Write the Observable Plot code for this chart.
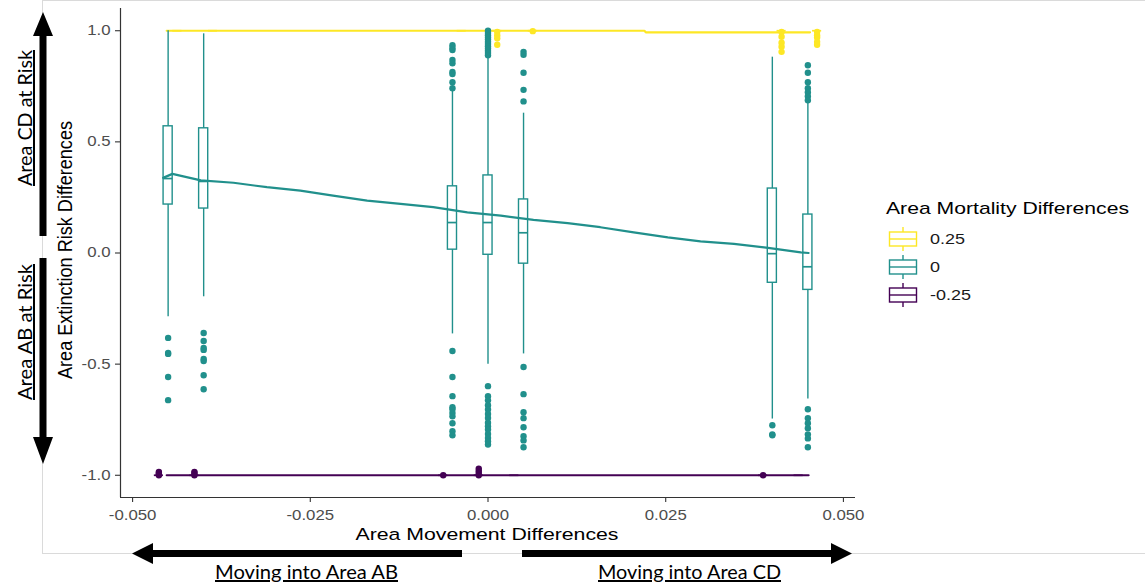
<!DOCTYPE html>
<html><head><meta charset="utf-8">
<script src="https://cdn.jsdelivr.net/npm/d3@7"></script>
<script src="https://cdn.jsdelivr.net/npm/@observablehq/plot@0.6"></script>
<style>
html,body{margin:0;padding:0;background:#fff;}
#wrap{position:relative;width:1145px;height:585px;overflow:hidden;}
#chart{position:absolute;left:0;top:0;width:1145px;height:585px;}
#anno{position:absolute;left:0;top:0;pointer-events:none;}
</style></head><body>
<div id="wrap"><div id="chart"></div><svg id="anno" width="1145" height="585"></svg></div>
<script>
// ---------------- data ----------------
const movement = [-0.045, -0.04, -0.005, 0, 0.005, 0.04, 0.045];
const mortalityLevels = ["0.25", "0", "-0.25"];
const mortalityColors = ["#FDE725", "#21908C", "#440154"];
const xTicks = [-0.05, -0.025, 0, 0.025, 0.05];
const yTicks = [-1, -0.5, 0, 0.5, 1];

// mortality 0 (teal) box statistics
const midQ1     = [0.218, 0.200, 0.015, -0.008, -0.048, -0.134, -0.166];
const midMedian = [0.335, 0.322, 0.137, 0.137, 0.091, -0.003, -0.062];
const midQ3     = [0.570, 0.561, 0.300, 0.349, 0.241, 0.290, 0.173];
const midLower  = [-0.287, -0.197, -0.364, -0.500, -0.454, -0.747, -0.657];
const midUpper  = [1.000, 0.986, 0.732, 0.881, 0.629, 0.881, 0.673];
const midOutliers = [
  [-0.382, -0.45, -0.454, -0.558, -0.662],
  [-0.36, -0.396, -0.427, -0.436, -0.477, -0.486, -0.55, -0.613],
  [0.935, 0.922, 0.913, 0.868, 0.854, 0.814, 0.805, 0.768, 0.741, -0.441, -0.558, -0.644, -0.694, -0.703, -0.72, -0.735, -0.766, -0.802, -0.82],
  [1.0, 0.99, 0.98, 0.97, 0.96, 0.95, 0.94, 0.93, 0.92, 0.91, 0.9, 0.89, -0.599, -0.644, -0.663, -0.685, -0.704, -0.724, -0.742, -0.764, -0.779, -0.794, -0.814, -0.832, -0.847, -0.862],
  [0.905, 0.892, 0.811, 0.734, 0.682, -0.513, -0.635, -0.716, -0.743, -0.784, -0.824, -0.843, -0.874],
  [-0.775, -0.816, -0.82],
  [0.845, 0.811, 0.768, 0.741, 0.723, 0.705, 0.687, -0.703, -0.743, -0.766, -0.788, -0.816, -0.834, -0.874]
];
// mortality 0.25 (yellow): all boxes collapsed at 1
const highQ1     = [1, 1, 1, 1, 1, 1, 1];
const highMedian = [1, 1, 1, 1, 1, 1, 1];
const highQ3     = [1, 1, 1, 1, 1, 1, 1];
const highLower  = [1, 1, 1, 1, 1, 1, 1];
const highUpper  = [1, 1, 1, 1, 1, 1, 1];
const highOutliers = [[], [], [], [0.995, 0.98, 0.966, 0.937], [0.998], [0.995, 0.973, 0.946, 0.928, 0.905], [0.995, 0.98, 0.97, 0.95, 0.937]];
// mortality -0.25 (purple): all boxes collapsed at -1
const lowQ1     = [-1, -1, -1, -1, -1, -1, -1];
const lowMedian = [-1, -1, -1, -1, -1, -1, -1];
const lowQ3     = [-1, -1, -1, -1, -1, -1, -1];
const lowLower  = [-1, -1, -1, -1, -1, -1, -1];
const lowUpper  = [-1, -1, -1, -1, -1, -1, -1];
const lowOutliers = [[-0.985, -0.99, -0.995, -1.0], [-0.985, -0.99, -1.0], [-1.0], [-0.97, -0.98, -0.99, -1.0], [], [-1.0], []];

// trend lines
const highLineX = [-0.0452, 0.022, 0.0222, 0.0453];
const highLineY = [1.0, 1.0, 0.993, 0.993];
const midLineX = [-0.0457, -0.0444, -0.0404, -0.0358, -0.0311, -0.0264, -0.0218, -0.0170, -0.0123, -0.0077, -0.0029, 0.0018, 0.0064, 0.0112, 0.0158, 0.0205, 0.0253, 0.0299, 0.0346, 0.0394, 0.0440, 0.0451];
const midLineY = [0.338, 0.356, 0.327, 0.316, 0.296, 0.281, 0.258, 0.236, 0.221, 0.206, 0.183, 0.168, 0.149, 0.134, 0.116, 0.093, 0.070, 0.052, 0.041, 0.023, 0.003, 0.0];
const lowLineX = [-0.0452, 0.0451];
const lowLineY = [-1.0, -1.0];

// ---------------- build tables ----------------
const dodge = {"0.25": 0.0013, "0": 0, "-0.25": -0.0013};
const halfBox = 0.00064;
const groups = [
  {level: "0.25", q1: highQ1, med: highMedian, q3: highQ3, lo: highLower, hi: highUpper, out: highOutliers, lx: highLineX, ly: highLineY},
  {level: "0", q1: midQ1, med: midMedian, q3: midQ3, lo: midLower, hi: midUpper, out: midOutliers, lx: midLineX, ly: midLineY},
  {level: "-0.25", q1: lowQ1, med: lowMedian, q3: lowQ3, lo: lowLower, hi: lowUpper, out: lowOutliers, lx: lowLineX, ly: lowLineY}
];
const boxes = [], outliers = [], lines = [];
for (const g of groups) {
  movement.forEach((m, i) => {
    const x = m + dodge[g.level];
    boxes.push({level: g.level, x, q1: g.q1[i], med: g.med[i], q3: g.q3[i], lo: g.lo[i], hi: g.hi[i]});
    g.out[i].forEach(v => outliers.push({level: g.level, x, y: v}));
  });
  g.lx.forEach((x, i) => lines.push({level: g.level, x, y: g.ly[i]}));
}

const xDomain = [-0.0517, 0.0517];
const yDomain = [-1.1, 1.1];
const SX = 1.2;

const plot = Plot.plot({
  width: 1145, height: 585,
  marginLeft: 120, marginRight: 290, marginTop: 8, marginBottom: 88,
  style: {fontFamily: "'Liberation Sans', Arial, sans-serif", fontSize: "14px", color: "#4d4d4d", background: "transparent"},
  x: {domain: xDomain, ticks: xTicks, tickFormat: d => d.toFixed(3), tickSize: 5, tickPadding: 8, label: null},
  y: {domain: yDomain, ticks: yTicks, tickFormat: d => d.toFixed(1), tickSize: 5, tickPadding: 5, label: null},
  color: {domain: mortalityLevels, range: mortalityColors},
  marks: [
    Plot.line(lines, {x: "x", y: "y", z: "level", stroke: "level", strokeWidth: 2.2}),
    Plot.ruleX(boxes, {x: "x", y1: "lo", y2: "q1", stroke: "level", strokeWidth: 1.4}),
    Plot.ruleX(boxes, {x: "x", y1: "q3", y2: "hi", stroke: "level", strokeWidth: 1.4}),
    Plot.rect(boxes, {x1: d => d.x - halfBox, x2: d => d.x + halfBox, y1: "q1", y2: "q3", stroke: "level", fill: "none", strokeWidth: 1.4}),
    Plot.ruleY(boxes, {y: "med", x1: d => d.x - halfBox, x2: d => d.x + halfBox, stroke: "level", strokeWidth: 1.7}),
    Plot.dot(outliers, {x: "x", y: "y", fill: "level", r: 3.2}),
    Plot.ruleX([xDomain[0]], {stroke: "#333", strokeWidth: 1.2}),
    Plot.ruleY([yDomain[0]], {stroke: "#333", strokeWidth: 1.2})
  ]
});
document.getElementById("chart").appendChild(plot);

// style axes like ggplot theme_classic, with the slightly widened glyphs of the original
plot.querySelectorAll('g[aria-label^="x-axis"] text, g[aria-label^="y-axis"] text').forEach(t => {
  const x = parseFloat(t.getAttribute("x")) || 0;
  const tr = t.getAttribute("transform") || "";
  t.setAttribute("transform", `${tr} translate(${x},0) scale(${SX},1) translate(${-x},0)`);
  t.setAttribute("fill", "#4d4d4d");
});
plot.querySelectorAll('g[aria-label^="x-axis"] path, g[aria-label^="y-axis"] path, g[aria-label^="x-axis"] line, g[aria-label^="y-axis"] line').forEach(p => {
  p.setAttribute("stroke", "#333");
  p.setAttribute("stroke-width", "1.1");
});

// ---------------- annotations ----------------
const anno = d3.select("#anno");
anno.append("rect").attr("x", 42.5).attr("y", 0.5).attr("width", 1110).attr("height", 553)
  .attr("fill", "none").attr("stroke", "#dadada").attr("stroke-width", 1);

// axis titles
anno.append("text").text("Area Movement Differences")
  .attr("x", 487).attr("y", 540).attr("text-anchor", "middle")
  .attr("font-family", "'Liberation Sans', Arial, sans-serif").attr("font-size", 16.7)
  .attr("textLength", 263).attr("lengthAdjust", "spacingAndGlyphs").attr("fill", "#000");
anno.append("text").text("Area Extinction Risk Differences")
  .attr("transform", "translate(72,250) rotate(-90) scale(1,1.22)")
  .attr("text-anchor", "middle")
  .attr("font-family", "'Liberation Sans', Arial, sans-serif").attr("font-size", 17)
  .attr("textLength", 258).attr("lengthAdjust", "spacingAndGlyphs").attr("fill", "#000");

// legend
const lg = anno.append("g");
lg.append("text").text("Area Mortality Differences").attr("x", 886).attr("y", 214)
  .attr("font-family", "'Liberation Sans', Arial, sans-serif").attr("font-size", 17)
  .attr("textLength", 243).attr("lengthAdjust", "spacingAndGlyphs").attr("fill", "#000");
mortalityLevels.forEach((lev, i) => {
  const cy = 239 + i * 28;
  const col = mortalityColors[i];
  const k = lg.append("g").attr("stroke", col).attr("stroke-width", 1.4).attr("fill", "none");
  k.append("line").attr("x1", 903).attr("x2", 903).attr("y1", cy - 12).attr("y2", cy - 7);
  k.append("line").attr("x1", 903).attr("x2", 903).attr("y1", cy + 7).attr("y2", cy + 12);
  k.append("rect").attr("x", 889.5).attr("y", cy - 7).attr("width", 27).attr("height", 14);
  k.append("line").attr("x1", 889.5).attr("x2", 916.5).attr("y1", cy).attr("y2", cy);
  lg.append("text").text(lev)
    .attr("transform", `translate(930,${cy + 5}) scale(${SX},1)`)
    .attr("font-family", "'Liberation Sans', Arial, sans-serif").attr("font-size", 15).attr("fill", "#1a1a1a");
});

// black arrows
const arrows = [
  [[39.5,236],[39.5,36],[33,36],[43,12],[53,36],[46.5,36],[46.5,236]],
  [[39.5,258],[39.5,437],[33,437],[43,464],[53,437],[46.5,437],[46.5,258]],
  [[462,550],[153,550],[153,543],[132,553.5],[153,564],[153,557],[462,557]],
  [[522,550],[831,550],[831,543],[852,553.5],[831,564],[831,557],[522,557]]
];
arrows.forEach(p => anno.append("polygon").attr("points", p.map(q => q.join(",")).join(" ")).attr("fill", "#000"));

// annotation texts
const annoFont = "Lato, 'Open Sans', sans-serif";
[["Area CD at Risk", 118], ["Area AB at Risk", 332]].forEach(([t, cy]) => {
  anno.append("text").text(t).attr("transform", `translate(32,${cy}) rotate(-90)`)
    .attr("text-anchor", "middle").attr("font-family", annoFont).attr("font-size", 20)
    .attr("textLength", 136).attr("lengthAdjust", "spacingAndGlyphs")
    .attr("text-decoration", "underline").attr("fill", "#000");
});
[["Moving into Area AB", 306.5], ["Moving into Area CD", 689.5]].forEach(([t, cx]) => {
  anno.append("text").text(t).attr("x", cx).attr("y", 579)
    .attr("text-anchor", "middle").attr("font-family", annoFont).attr("font-size", 20)
    .attr("textLength", 183).attr("lengthAdjust", "spacingAndGlyphs")
    .attr("text-decoration", "underline").attr("fill", "#000");
});
</script>
</body></html>
